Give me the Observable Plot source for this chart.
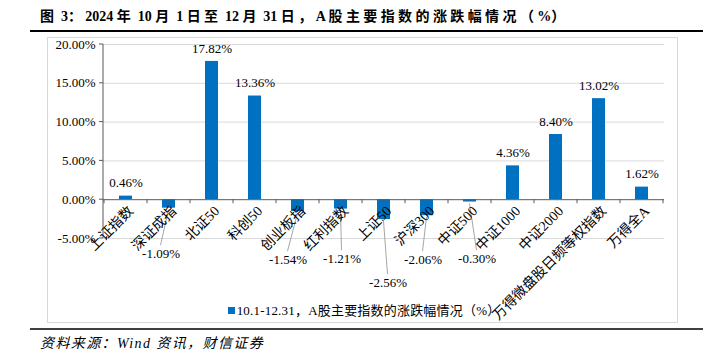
<!DOCTYPE html>
<html>
<head>
<meta charset="utf-8">
<script src="https://cdn.jsdelivr.net/npm/d3@7"></script>
<script src="https://cdn.jsdelivr.net/npm/@observablehq/plot@0.6"></script>
<style>
  html, body { margin: 0; padding: 0; background: #fff; }
  body { width: 710px; height: 351px; position: relative; overflow: hidden;
         font-family: "Liberation Serif", "Times New Roman", "Noto Sans CJK SC", serif; color: #000; }
  #title { position: absolute; left: 40px; top: 9px; font-size: 14px; font-weight: bold; white-space: nowrap; line-height: 16px; }
  #title .cjk { letter-spacing: 3.4px; }
  .rule { position: absolute; left: 30px; width: 673px; }
  #frame { position: absolute; left: 47px; top: 37px; width: 631px; height: 286px; border: 1px solid #d9d9d9; box-sizing: border-box; }
  #chart { position: absolute; left: 47px; top: 37px; }
  #chart svg { overflow: visible; }
  #legend { position: absolute; left: 0; width: 728px; top: 303px; text-align: center; font-size: 13px; line-height: 16px; white-space: nowrap; letter-spacing: 0.2px; }
  #legend .sw { display: inline-block; width: 7px; height: 7px; background: #0070C0; margin-right: 2px; vertical-align: 1px; }
  #source { position: absolute; left: 40px; top: 337px; font-size: 14px; line-height: 14px; font-style: italic; white-space: nowrap; letter-spacing: 1.4px; }
</style>
</head>
<body>
<div id="title"></div>
<div class="rule" style="top:30px;height:2px;background:#000"></div>
<div id="frame"></div>
<div id="legend"></div>
<div id="chart"></div>
<div class="rule" style="top:328px;height:2px;background:#404040"></div>
<div id="source"></div>
<script>
// ---- data ----
const titleText = "图 3：2024 年 10 月 1 日至 12 月 31 日，A 股主要指数的涨跌幅情况（%）";
const sourceText = "资料来源：Wind 资讯，财信证券";
const seriesName = "10.1-12.31，A股主要指数的涨跌幅情况（%）";
const categories = ["上证指数", "深证成指", "北证50", "科创50", "创业板指", "红利指数", "上证50",
  "沪深300", "中证500", "中证1000", "中证2000", "万得微盘股日频等权指数", "万得全A"];
const changes = [0.46, -1.09, 17.82, 13.36, -1.54, -1.21, -2.56, -2.06, -0.30, 4.36, 8.40, 13.02, 1.62];
const yTicks = [-5, 0, 5, 10, 15, 20];

// ---- layout of the negative-value labels (pixel offsets: dx from bar centre, dy below zero line) ----
const negLabelDx = [-8, -10, 1, 4, -4, 7];
const negLabelDy = [54, 60, 59, 83, 60, 59];

const SERIF = '"Liberation Serif", "Times New Roman", "Noto Sans CJK SC", serif';
const BLUE = "#0070C0";
const fmt = v => v.toFixed(2) + "%";

// title: CJK runs get wider tracking, like the reference typesetting
const titleEl = document.getElementById("title");
titleText.split(/([\u3000-\u9fff\uff00-\uffef]+)/).forEach(part => {
  if (!part) return;
  const s = document.createElement("span");
  if (/[\u3000-\u9fff\uff00-\uffef]/.test(part)) s.className = "cjk";
  s.textContent = part;
  titleEl.appendChild(s);
});
document.getElementById("source").textContent = sourceText;
document.getElementById("legend").innerHTML = '<span class="sw"></span>' + seriesName;

const data = categories.map((cat, i) => ({cat, v: changes[i]}));
const pos = data.filter(d => d.v >= 0);
const neg = data.filter(d => d.v < 0).map((d, i) => ({...d, dx: negLabelDx[i], dy: negLabelDy[i]}));

function axesAndLeaders(index, scales, values, dimensions) {
  const {x, y} = scales;
  const {marginLeft} = dimensions;
  const g = d3.create("svg:g");
  const bw = x.bandwidth();
  const step = x(categories[1]) - x(categories[0]);
  const cx = c => x(c) + bw / 2;
  // leader lines for negative labels
  neg.forEach(d => {
    g.append("line")
      .attr("x1", cx(d.cat)).attr("y1", y(d.v) + 2)
      .attr("x2", cx(d.cat) + d.dx).attr("y2", y(0) + d.dy - 8)
      .attr("stroke", "#a6a6a6").attr("stroke-width", 1);
  });
  // y axis line and ticks
  g.append("line").attr("x1", marginLeft).attr("x2", marginLeft)
    .attr("y1", y(yTicks[0])).attr("y2", y(yTicks[yTicks.length - 1]))
    .attr("stroke", "#595959");
  yTicks.forEach(t => g.append("line").attr("x1", marginLeft - 4).attr("x2", marginLeft)
    .attr("y1", y(t)).attr("y2", y(t)).attr("stroke", "#595959"));
  // x axis ticks at category boundaries
  for (let k = 0; k <= categories.length; k++) {
    const xb = k < categories.length ? cx(categories[k]) - step / 2 : cx(categories[k - 1]) + step / 2;
    g.append("line").attr("x1", xb).attr("x2", xb).attr("y1", y(0)).attr("y2", y(0) + 4)
      .attr("stroke", "#595959");
  }
  return g.node();
}

const marks = [
  Plot.ruleY(yTicks.filter(t => t !== 0), {y: d => d, stroke: "#d9d9d9", strokeWidth: 1}),
  Plot.barY(data, {x: "cat", y: "v", fill: BLUE}),
  Plot.ruleY([0], {stroke: "#595959", strokeWidth: 1}),
  axesAndLeaders,
  Plot.text(yTicks, {y: d => d, text: d => fmt(d), frameAnchor: "left", textAnchor: "end", dx: -8, fontSize: 13}),
  Plot.text(pos, {x: "cat", y: "v", text: d => fmt(d.v), dy: -13, fontSize: 13}),
  Plot.text(data, {x: "cat", y: () => 0, text: "cat", rotate: -45, textAnchor: "end", dx: 5, dy: 9, fontSize: 14})
];
neg.forEach(d => {
  marks.push(Plot.text([d], {x: "cat", y: () => 0, text: d => fmt(d.v), dx: d.dx, dy: d.dy, fontSize: 13}));
});

const chart = Plot.plot({
  width: 631,
  height: 286,
  marginTop: 7,
  marginBottom: 85,
  marginLeft: 56,
  marginRight: 14,
  style: {fontFamily: SERIF, fontSize: "13px", color: "#000", background: "transparent", overflow: "visible"},
  x: {domain: categories, paddingInner: 0.7, paddingOuter: 0.35, axis: null},
  y: {domain: [-5, 20], axis: null},
  marks
});
document.getElementById("chart").appendChild(chart);
</script>
</body>
</html>
